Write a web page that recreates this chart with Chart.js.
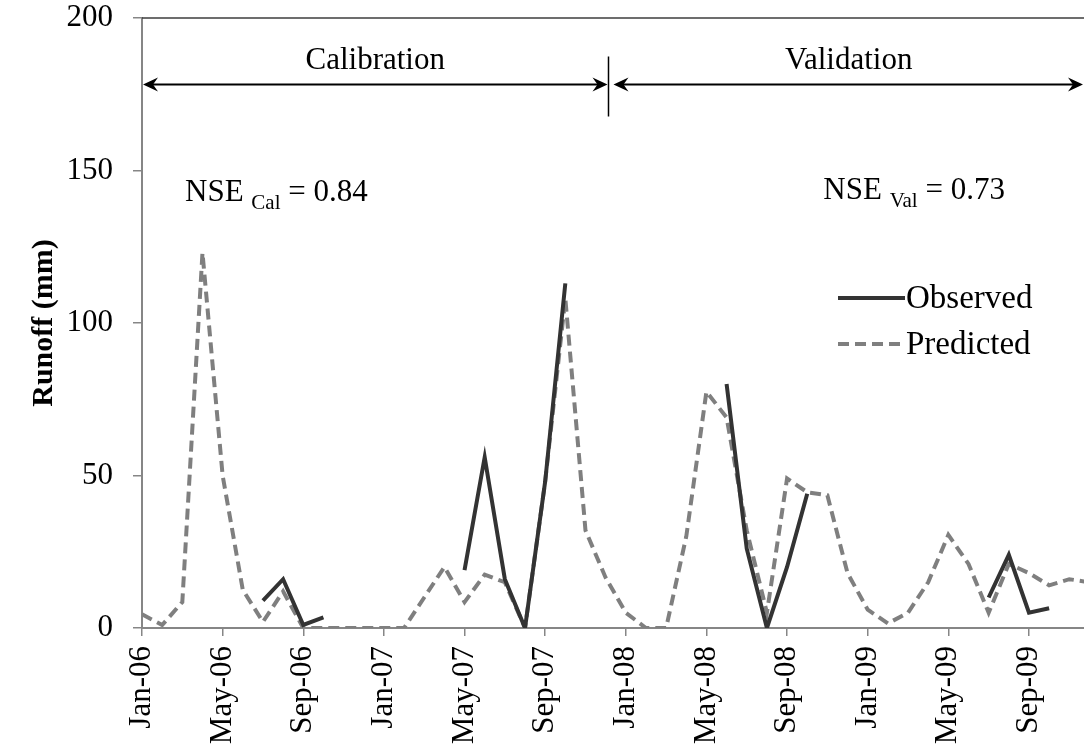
<!DOCTYPE html>
<html>
<head>
<meta charset="utf-8">
<script src="https://cdn.jsdelivr.net/npm/chart.js@4.4.1/dist/chart.umd.min.js"></script>
<style>
  html, body { margin: 0; padding: 0; background: #fff; }
  #runoff { display: block; }
</style>
</head>
<body>
<canvas id="runoff" width="1084" height="751"></canvas>
<script>
// Monthly runoff, Jan 2006 - Dec 2009
const months = [
  'Jan-06', 'Feb-06', 'Mar-06', 'Apr-06', 'May-06', 'Jun-06', 'Jul-06', 'Aug-06', 'Sep-06', 'Oct-06', 'Nov-06', 'Dec-06',
  'Jan-07', 'Feb-07', 'Mar-07', 'Apr-07', 'May-07', 'Jun-07', 'Jul-07', 'Aug-07', 'Sep-07', 'Oct-07', 'Nov-07', 'Dec-07',
  'Jan-08', 'Feb-08', 'Mar-08', 'Apr-08', 'May-08', 'Jun-08', 'Jul-08', 'Aug-08', 'Sep-08', 'Oct-08', 'Nov-08', 'Dec-08',
  'Jan-09', 'Feb-09', 'Mar-09', 'Apr-09', 'May-09', 'Jun-09', 'Jul-09', 'Aug-09', 'Sep-09', 'Oct-09', 'Nov-09', 'Dec-09'
];

// gaps (null) are months without measurements
const observed = [
  null, null, null, null, null, null, 9, 16, 1, 3.5, null, null,
  null, null, null, null, 19, 56, 16, 0, 48, 113, null, null,
  null, null, null, null, null, 80, 26, 0, 20, 44, null, null,
  null, null, null, null, null, null, 10, 24, 5, 6.5, null, null
];

const predicted = [
  4.5, 1, 8.5, 123, 50, 12.5, 2, 12, 0, 0, 0, 0,
  0, 0, 10, 20, 8.5, 17.5, 15, 0, 48, 108, 32, 16.5,
  5, 0, 0, 30, 77.5, 69, 32, 5, 49, 44.5, 43.5, 18,
  6, 1.5, 5, 15, 30.5, 21, 5, 21, 18, 14, 16, 15
];

const seriesNames = ['Observed', 'Predicted'];
const nseCal = '0.84';
const nseVal = '0.73';
const lastCalMonth = 23.1;   // split between calibration and validation periods

const FONT = '"Liberation Serif", "Times New Roman", serif';
const AXIS_GREY = '#868686';

function toPoints(values) {
  return values.map((v, i) => ({ x: i, y: v }));
}

function arrowHead(ctx, tipX, y, dir) {
  // dir = -1 points left, +1 points right
  ctx.beginPath();
  ctx.moveTo(tipX, y);
  ctx.lineTo(tipX - dir * 15, y - 7);
  ctx.lineTo(tipX - dir * 10, y);
  ctx.lineTo(tipX - dir * 15, y + 7);
  ctx.closePath();
  ctx.fill();
}

function subscriptText(ctx, x, y, main, sub, rest) {
  ctx.textAlign = 'left';
  ctx.textBaseline = 'alphabetic';
  ctx.font = '31px ' + FONT;
  ctx.fillText(main + ' ', x, y);
  x += ctx.measureText(main + ' ').width;
  ctx.font = '21px ' + FONT;
  ctx.fillText(sub, x, y + 8);
  x += ctx.measureText(sub).width;
  ctx.font = '31px ' + FONT;
  ctx.fillText(rest, x, y);
}

const overlay = {
  id: 'overlay',
  afterDraw(chart) {
    const { ctx, chartArea: a, scales: { x, y } } = chart;
    ctx.save();

    // plot frame top edge
    ctx.strokeStyle = '#3c3c3c';
    ctx.lineWidth = 1.5;
    ctx.beginPath();
    ctx.moveTo(a.left, a.top);
    ctx.lineTo(a.right, a.top);
    ctx.stroke();

    // calibration / validation arrows
    const ya = Math.round(y.getPixelForValue(178.5)) + 0.5;
    const split = Math.round(x.getPixelForValue(lastCalMonth)) + 0.5;
    ctx.strokeStyle = '#000';
    ctx.fillStyle = '#000';
    ctx.lineWidth = 2;
    ctx.beginPath();
    ctx.moveTo(a.left + 8, ya);
    ctx.lineTo(split - 8, ya);
    ctx.moveTo(split + 12, ya);
    ctx.lineTo(a.right - 8, ya);
    ctx.stroke();
    arrowHead(ctx, a.left + 1, ya, -1);
    arrowHead(ctx, split - 1, ya, 1);
    arrowHead(ctx, split + 5, ya, -1);
    arrowHead(ctx, a.right - 1, ya, 1);

    ctx.lineWidth = 1.5;
    ctx.beginPath();
    ctx.moveTo(split, ya - 28);
    ctx.lineTo(split, ya + 32);
    ctx.stroke();

    ctx.font = '31px ' + FONT;
    ctx.textAlign = 'center';
    ctx.textBaseline = 'alphabetic';
    ctx.fillText('Calibration', (a.left + split) / 2, ya - 16);
    ctx.fillText('Validation', (split + 5 + a.right) / 2, ya - 16);

    // efficiency scores
    subscriptText(ctx, a.left + 43, y.getPixelForValue(140), 'NSE', 'Cal', ' = ' + nseCal);
    subscriptText(ctx, x.getPixelForValue(33.8), y.getPixelForValue(140.5), 'NSE', 'Val', ' = ' + nseVal);

    // legend
    const lx0 = 838, lx1 = 905;
    chart.data.datasets.forEach((ds, i) => {
      const ly = 298 + i * 46;
      ctx.strokeStyle = ds.borderColor;
      ctx.lineWidth = ds.borderWidth;
      ctx.setLineDash(ds.borderDash || []);
      ctx.beginPath();
      ctx.moveTo(lx0, ly);
      ctx.lineTo(lx1, ly);
      ctx.stroke();
      ctx.setLineDash([]);
      ctx.fillStyle = '#000';
      ctx.font = '33px ' + FONT;
      ctx.textAlign = 'left';
      ctx.textBaseline = 'middle';
      ctx.fillText(ds.label, lx1 + 1, ly + 1);
    });

    ctx.restore();
  }
};

new Chart(document.getElementById('runoff'), {
  type: 'line',
  data: {
    datasets: [
      {
        label: seriesNames[0],
        data: toPoints(observed),
        borderColor: '#333333',
        borderWidth: 4,
        pointRadius: 0,
        spanGaps: false,
        tension: 0
      },
      {
        label: seriesNames[1],
        data: toPoints(predicted),
        borderColor: '#7f7f7f',
        borderWidth: 4,
        borderDash: [11, 6],
        pointRadius: 0,
        tension: 0
      }
    ]
  },
  options: {
    responsive: false,
    animation: false,
    layout: { padding: 0 },
    plugins: {
      legend: { display: false },
      tooltip: { enabled: false }
    },
    scales: {
      x: {
        type: 'linear',
        min: 0,
        max: 46.73,
        afterFit: (scale) => { scale.height = 123; },
        border: { color: AXIS_GREY, width: 2 },
        grid: { drawOnChartArea: false, color: AXIS_GREY, lineWidth: 1.5, tickLength: 8 },
        ticks: {
          stepSize: 4,
          includeBounds: false,
          autoSkip: false,
          minRotation: 90,
          maxRotation: 90,
          padding: 10,
          color: '#000',
          font: { family: FONT, size: 31 },
          callback: (v) => (Number.isInteger(v) && months[v]) ? months[v] : ''
        }
      },
      y: {
        min: 0,
        max: 200,
        afterFit: (scale) => {
          scale.width = 142;
          // keep the plot top 18px below the canvas edge
          scale.paddingTop = 18;
          scale.paddingBottom = 0;
        },
        border: { color: AXIS_GREY, width: 2 },
        grid: { drawOnChartArea: false, color: AXIS_GREY, lineWidth: 1.5, tickLength: 9 },
        ticks: {
          stepSize: 50,
          padding: 20,
          color: '#000',
          font: { family: FONT, size: 31, lineHeight: 1 }
        },
        title: {
          display: true,
          text: 'Runoff (mm)',
          color: '#000',
          padding: { top: 26, bottom: 0 },
          font: { family: FONT, size: 30, weight: 'bold' }
        }
      }
    }
  },
  plugins: [overlay]
});
</script>
</body>
</html>
